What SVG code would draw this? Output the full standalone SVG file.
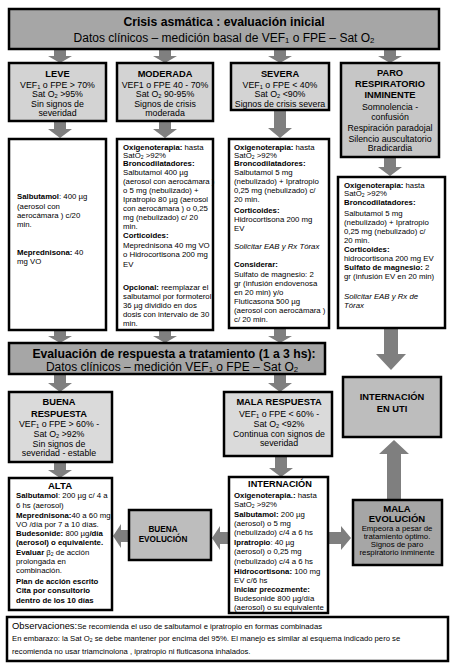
<svg xmlns="http://www.w3.org/2000/svg" width="452" height="664" viewBox="0 0 452 664">
<style>
text{font-family:"Liberation Sans",Arial,Helvetica,sans-serif;fill:#000}
.h1{font-size:12.2px;font-weight:bold}
.h2{font-size:12px}
.tt{font-size:9.3px;font-weight:bold}
.bd{font-size:8.8px}
.sm{font-size:7.8px}
.b{font-weight:bold}
.i{font-style:italic}
.c{text-anchor:middle}
.sub{font-size:65%}
.box{stroke:#000;stroke-width:2.5}
.g1{fill:#a6a6a6}
.g2{fill:#d3d3d3}
.g3{fill:#c6c6c6}
.g4{fill:#dadada}
.g5{fill:#bdbdbd}
.w{fill:#fff}
.arr{fill:#7f7f7f}
</style>
<rect width="452" height="664" fill="#fff"/>
<g id="connectors" class="arr">
<path d="M54 50H66V56H72L60 63L48 56H54Z"/>
<path d="M159 50H171V56H177L165 63L153 56H159Z"/>
<path d="M274 50H286V56H292L280 63L268 56H274Z"/>
<path d="M384 50H396V56H402L390 63L378 56H384Z"/>
<path d="M54 122H66V129H72L60 138L48 129H54Z"/>
<path d="M159 122H171V129H177L165 138L153 129H159Z"/>
<path d="M274 111H286V128H292L280 138L268 128H274Z"/>
<path d="M384 158H396V167H402L390 176L378 167H384Z"/>
<path d="M54 331H66V336H72L60 343L48 336H54Z"/>
<path d="M159 331H171V336H177L165 343L153 336H159Z"/>
<path d="M274 329H286V336H292L280 343L268 336H274Z"/>
<path d="M384 329H398V354H406L391 370L376 354H384Z"/>
<path d="M54 375H66V383H72L60 392L48 383H54Z"/>
<path d="M274 375H286V383H292L280 392L268 383H274Z"/>
<path d="M54 463H66V470H72L60 478L48 470H54Z"/>
<path d="M275 457H287V468H293L281 477L269 468H275Z"/>
<path d="M129 530V542H121V548L113 536L121 524V530Z"/>
<path d="M229 532V544H220V550L212 538L220 526V532Z"/>
<path d="M329 532V544H341V550L351 538L341 526V532Z"/>
<path d="M387 499V454H379L394 440L409 454H401V499Z"/>
</g>
<g id="n-header">
<rect class="box g1" x="9" y="9" width="430" height="40"/>
<text class="h1 c" x="224" y="26">Crisis asmática : evaluación inicial</text>
<text class="h2 c" x="224" y="41.5">Datos clínicos – medición basal de VEF<tspan class="sub" dy="1.5">1</tspan><tspan dy="-1.5"> o FPE – Sat O</tspan><tspan class="sub" dy="1.5">2</tspan></text>
</g>
<g id="n-leve">
<rect class="box g2" x="9" y="63" width="97" height="58"/>
<text class="tt c" x="57.5" y="76.5">LEVE</text>
<text class="bd c" x="57.5" y="87.6">VEF<tspan class="sub" dy="1">1</tspan><tspan dy="-1"> o FPE &gt; 70%</tspan></text>
<text class="bd c" x="57.5" y="97.4">Sat O<tspan class="sub" dy="1">2</tspan><tspan dy="-1"> &gt;95%</tspan></text>
<text class="bd c" x="57.5" y="106.8">Sin signos de</text>
<text class="bd c" x="57.5" y="116.2">severidad</text>
</g>
<g id="n-moderada">
<rect class="box g2" x="117" y="63" width="96" height="58"/>
<text class="tt c" x="165" y="76.5">MODERADA</text>
<text class="bd c" x="165" y="87.6">VEF1 o FPE 40 - 70%</text>
<text class="bd c" x="165" y="97.4">Sat O<tspan class="sub" dy="1">2</tspan><tspan dy="-1"> 90-95%</tspan></text>
<text class="bd c" x="165" y="106.8">Signos de crisis</text>
<text class="bd c" x="165" y="116.2">moderada</text>
</g>
<g id="n-severa">
<rect class="box g2" x="231" y="63" width="98" height="47"/>
<text class="tt c" x="280" y="76.5">SEVERA</text>
<text class="bd c" x="280" y="87.6">VEF<tspan class="sub" dy="1">1</tspan><tspan dy="-1"> o FPE &lt; 40%</tspan></text>
<text class="bd c" x="280" y="97.4">Sat O<tspan class="sub" dy="1">2</tspan><tspan dy="-1"> &lt;90%</tspan></text>
<text class="bd c" x="280" y="106.6">Signos de crisis severa</text>
</g>
<g id="n-paro">
<rect class="box g3" x="341" y="63" width="98" height="94"/>
<text class="tt c" x="390" y="76">PARO</text>
<text class="tt c" x="390" y="87.3">RESPIRATORIO</text>
<text class="tt c" x="390" y="98.3">INMINENTE</text>
<text class="bd c" x="390" y="109.7">Somnolencia -</text>
<text class="bd c" x="390" y="120.3">confusión</text>
<text class="bd c" x="390" y="131.3">Respiración paradojal</text>
<text class="bd c" x="390" y="142">Silencio auscultatorio</text>
<text class="bd c" x="390" y="151.3">Bradicardia</text>
</g>
<g id="n-leve-tto">
<rect class="box w" x="9" y="139" width="97" height="191"/>
<text class="sm" x="17" y="199.4"><tspan class="b">Salbutamol</tspan>: 400 µg</text>
<text class="sm" x="17" y="208.7">(aerosol con</text>
<text class="sm" x="17" y="218">aerocámara ) c/20</text>
<text class="sm" x="17" y="227.3">min.</text>
<text class="sm" x="17" y="255"><tspan class="b">Meprednisona:</tspan> 40</text>
<text class="sm" x="17" y="264.3">mg VO</text>
</g>
<g id="n-moderada-tto">
<rect class="box w" x="117" y="139" width="96" height="191"/>
<text class="sm" x="123" y="149.6"><tspan class="b">Oxigenoterapia:</tspan> hasta</text>
<text class="sm" x="123" y="158">SatO<tspan class="sub" dy="1">2</tspan><tspan dy="-1"> &gt;92%</tspan></text>
<text class="sm b" x="123" y="166.4">Broncodilatadores:</text>
<text class="sm" x="123" y="174.8">Salbutamol  400 µg</text>
<text class="sm" x="123" y="183.8">(aerosol con aerocámara )</text>
<text class="sm" x="123" y="192.8">o 5 mg (nebulizado) +</text>
<text class="sm" x="123" y="202">Ipratropio 80 µg (aerosol</text>
<text class="sm" x="123" y="211.2">con aerocámara ) o 0,25</text>
<text class="sm" x="123" y="220.4">mg (nebulizado) c/ 20</text>
<text class="sm" x="123" y="229.4">min.</text>
<text class="sm b" x="123" y="238.2">Corticoides:</text>
<text class="sm" x="123" y="247.7">Meprednisona  40 mg VO</text>
<text class="sm" x="123" y="257">o Hidrocortisona 200 mg</text>
<text class="sm" x="123" y="266.7">EV</text>
<text class="sm" x="123" y="290.4"><tspan class="b">Opcional:</tspan> reemplazar el</text>
<text class="sm" x="123" y="299.4">salbutamol  por formoterol</text>
<text class="sm" x="123" y="308.2">36  µg  dividido en dos</text>
<text class="sm" x="123" y="317.2">dosis con intervalo de 30</text>
<text class="sm" x="123" y="326">min.</text>
</g>
<g id="n-severa-tto">
<rect class="box w" x="229" y="139" width="100" height="189"/>
<text class="sm" x="234" y="149.6"><tspan class="b">Oxigenoterapia:</tspan> hasta</text>
<text class="sm" x="234" y="158">SatO<tspan class="sub" dy="1">2</tspan><tspan dy="-1"> &gt;92%</tspan></text>
<text class="sm b" x="234" y="166.4">Broncodilatadores:</text>
<text class="sm" x="234" y="174.8">Salbutamol 5 mg</text>
<text class="sm" x="234" y="183.8">(nebulizado) + Ipratropio</text>
<text class="sm" x="234" y="192.8">0,25 mg (nebulizado) c/</text>
<text class="sm" x="234" y="202">20 min.</text>
<text class="sm b" x="234" y="212.7">Corticoides:</text>
<text class="sm" x="234" y="221.7">Hidrocortisona 200 mg</text>
<text class="sm" x="234" y="231">EV</text>
<text class="sm i" x="234" y="249.4">Solicitar EAB y Rx Tórax</text>
<text class="sm b" x="234" y="267">Considerar:</text>
<text class="sm" x="234" y="277">Sulfato de magnesio: 2</text>
<text class="sm" x="234" y="286">gr (infusión endovenosa</text>
<text class="sm" x="234" y="295">en 20 min) y/o</text>
<text class="sm" x="234" y="304.4">Fluticasona 500 µg</text>
<text class="sm" x="234" y="313.4">(aerosol con aerocámara )</text>
<text class="sm" x="234" y="322">c/ 20 min.</text>
</g>
<g id="n-paro-tto">
<rect class="box w" x="338" y="177" width="107" height="151"/>
<text class="sm" x="344" y="188"><tspan class="b">Oxigenoterapia:</tspan> hasta</text>
<text class="sm" x="344" y="196.4">SatO<tspan class="sub" dy="1">2</tspan><tspan dy="-1"> &gt;92%</tspan></text>
<text class="sm b" x="344" y="205.4">Broncodilatadores:</text>
<text class="sm" x="344" y="216">Salbutamol 5 mg</text>
<text class="sm" x="344" y="225">(nebulizado) + Ipratropio</text>
<text class="sm" x="344" y="233.7">0,25 mg (nebulizado) c/</text>
<text class="sm" x="344" y="242.7">20 min.</text>
<text class="sm b" x="344" y="251.7">Corticoides:</text>
<text class="sm" x="344" y="261">hidrocortisona 200 mg EV</text>
<text class="sm" x="344" y="270.4"><tspan class="b">Sulfato de magnesio:</tspan> 2</text>
<text class="sm" x="344" y="279.4">gr (infusión EV en 20 min)</text>
<text class="sm i" x="344" y="299.4">Solicitar EAB y Rx de</text>
<text class="sm i" x="344" y="308.4">Tórax</text>
</g>
<g id="n-evaluacion">
<rect class="box g1" x="9" y="343" width="316" height="31"/>
<text class="h1 c" x="174" y="358.3">Evaluación de respuesta a tratamiento (1 a 3 hs):</text>
<text class="h2 c" x="172" y="371">Datos clínicos – medición VEF<tspan class="sub" dy="1">1</tspan><tspan dy="-1"> o FPE – Sat O</tspan><tspan class="sub" dy="1">2</tspan></text>
</g>
<g id="n-buena-respuesta">
<rect class="box g4" x="9" y="392" width="103" height="70"/>
<text class="tt c" x="59" y="405">BUENA</text>
<text class="tt c" x="59" y="417.3">RESPUESTA</text>
<text class="bd c" x="59" y="427.3">VEF<tspan class="sub" dy="1">1</tspan><tspan dy="-1"> o FPE &gt; 60%  -</tspan></text>
<text class="bd c" x="59" y="437">Sat O<tspan class="sub" dy="1">2</tspan><tspan dy="-1"> &gt;92%</tspan></text>
<text class="bd c" x="59" y="446.5">Sin signos de</text>
<text class="bd c" x="59" y="456.3">severidad - estable</text>
</g>
<g id="n-mala-respuesta">
<rect class="box g4" x="224" y="392" width="108" height="64"/>
<text class="tt c" x="279" y="405">MALA RESPUESTA</text>
<text class="bd c" x="279" y="416.8">VEF<tspan class="sub" dy="1">1</tspan><tspan dy="-1"> o FPE &lt; 60%  -</tspan></text>
<text class="bd c" x="279" y="426.6">Sat O<tspan class="sub" dy="1">2</tspan><tspan dy="-1"> &lt;92%</tspan></text>
<text class="bd c" x="279" y="437">Continua con signos de</text>
<text class="bd c" x="279" y="446.3">severidad</text>
</g>
<g id="n-uti">
<rect class="box g5" x="343" y="377" width="98" height="60"/>
<text class="tt c" x="392" y="400">INTERNACIÓN</text>
<text class="tt c" x="392" y="411.7">EN UTI</text>
</g>
<g id="n-alta">
<rect class="box w" x="9" y="478" width="103" height="132"/>
<text class="c b" x="60" y="488.5" style="font-size:9.6px">ALTA</text>
<text class="sm" x="16" y="498.4"><tspan class="b">Salbutamol</tspan>: 200 µg c/ 4 a</text>
<text class="sm" x="16" y="507.7">6 hs (aerosol)</text>
<text class="sm" x="16" y="517.7"><tspan class="b">Meprednisona:</tspan>40 a 60 mg</text>
<text class="sm" x="16" y="526.7">VO /día por 7 a 10 días.</text>
<text class="sm" x="16" y="536"><tspan class="b">Budesonide:</tspan> 800 µg<tspan class="b">/día</tspan></text>
<text class="sm b" x="16" y="545">(aerosol) o equivalente.</text>
<text class="sm" x="16" y="555"><tspan class="b">Evaluar</tspan> β<tspan class="sub" dy="1">2</tspan><tspan dy="-1"> de acción</tspan></text>
<text class="sm" x="16" y="564.4">prolongada en</text>
<text class="sm" x="16" y="573.4">combinación.</text>
<text class="sm b" x="16" y="584.4">Plan de acción escrito</text>
<text class="sm b" x="16" y="593.4">Cita por consultorio</text>
<text class="sm b" x="16" y="602.7">dentro de los 10 días</text>
</g>
<g id="n-buena-evolucion">
<rect class="box g5" x="129" y="510" width="82" height="50"/>
<text class="sm b c" x="163" y="532.3" style="font-size:8.2px">BUENA</text>
<text class="sm b c" x="163" y="541.8" style="font-size:8.2px">EVOLUCIÓN</text>
</g>
<g id="n-internacion">
<rect class="box w" x="229" y="477" width="99" height="136"/>
<text class="c b" x="280" y="486.5" style="font-size:9.2px">INTERNACIÓN</text>
<text class="sm" x="234" y="498.4"><tspan class="b">Oxigenoterapia.:</tspan> hasta</text>
<text class="sm" x="234" y="507">SatO<tspan class="sub" dy="1">2</tspan><tspan dy="-1"> &gt;92%</tspan></text>
<text class="sm" x="234" y="517"><tspan class="b">Salbutamol:</tspan> 200 µg</text>
<text class="sm" x="234" y="526">(aerosol) o 5 mg</text>
<text class="sm" x="234" y="535.4">(nebulizado) c/4 a 6 hs</text>
<text class="sm" x="234" y="545.4"><tspan class="b">Ipratropio</tspan>: 40 µg</text>
<text class="sm" x="234" y="554.4">(aerosol) o 0,25 mg</text>
<text class="sm" x="234" y="563.7">(nebulizado) c/4 a 6 hs</text>
<text class="sm" x="234" y="573.7"><tspan class="b">Hidrocortisona:</tspan> 100 mg</text>
<text class="sm" x="234" y="582.7">EV c/6 hs</text>
<text class="sm b" x="234" y="591.7">Iniciar precozmente:</text>
<text class="sm" x="234" y="601">Budesonide  800 µg/día</text>
<text class="sm" x="234" y="610.2">(aerosol) o su equivalente</text>
</g>
<g id="n-mala-evolucion">
<rect class="box g1" x="353" y="500" width="89" height="65"/>
<text class="c b" x="397" y="512.3" style="font-size:9.5px">MALA</text>
<text class="c b" x="397" y="521.8" style="font-size:9.5px">EVOLUCIÓN</text>
<text class="sm c" x="397" y="531">Empeora a pesar de</text>
<text class="sm c" x="397" y="538.6">tratamiento óptimo.</text>
<text class="sm c" x="397" y="546.7">Signos de paro</text>
<text class="sm c" x="397" y="554.5">respiratorio inminente</text>
</g>
<g id="n-observaciones">
<rect class="box w" x="7" y="617" width="441" height="44"/>
<text x="12" y="629.3" style="font-size:9.4px">Observaciones:<tspan style="font-size:7.7px">Se recomienda el uso de salbutamol e ipratropio en formas combinadas</tspan></text>
<text x="12" y="641" style="font-size:7.7px">En embarazo: la Sat O<tspan class="sub" dy="1">2</tspan><tspan dy="-1"> se debe mantener por encima del 95%. El manejo es similar al esquema indicado pero se</tspan></text>
<text x="12" y="653.7" style="font-size:7.7px">recomienda no usar triamcinolona , ipratropio  ni fluticasona  inhalados.</text>
</g>
</svg>
